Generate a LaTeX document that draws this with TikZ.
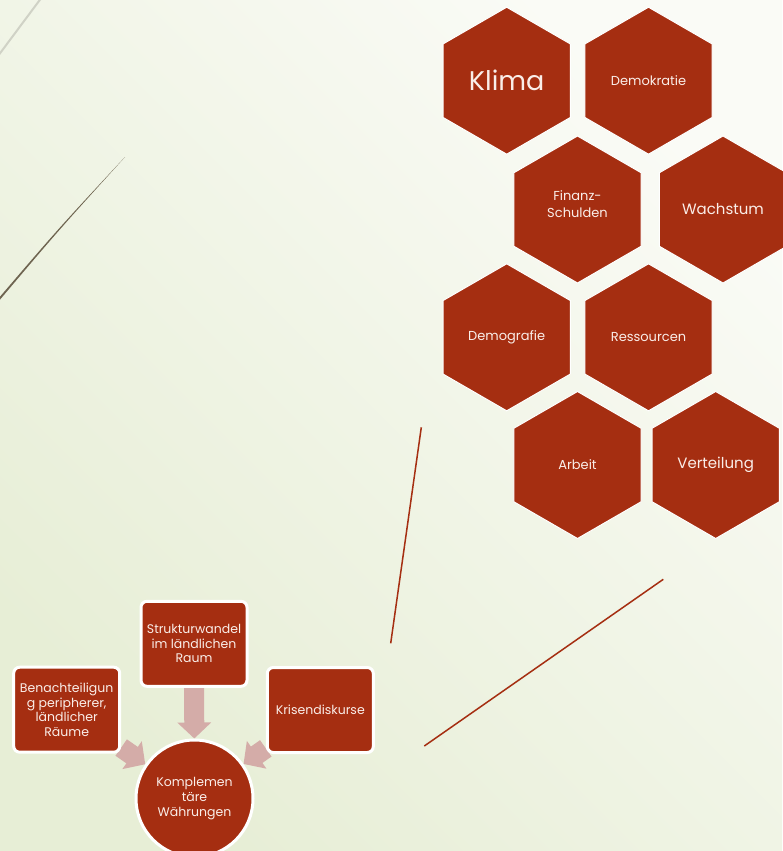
\documentclass[tikz,border=0pt]{standalone}
\usepackage{fontspec}
\setmainfont{Poppins}
\usepackage{tikz}
\usetikzlibrary{
    shapes.geometric,
    arrows.meta,
    backgrounds
}

\definecolor{rust}{RGB}{165,46,17}
\definecolor{rosa}{RGB}{212,172,168}
\definecolor{hellweiss}{RGB}{250,238,233}
\definecolor{bggreen}{RGB}{231,238,214}
\definecolor{bglight}{RGB}{250,251,246}
\definecolor{wisp}{RGB}{110,100,80}
\definecolor{wispgray}{RGB}{208,210,198}

\tikzset{
    hexnode/.style={regular polygon, regular polygon sides=6, shape border rotate=30,
        minimum size=147pt, inner sep=0pt, fill=rust, draw=white, line width=1pt,
        text=hellweiss, align=center, font=\fontsize{13}{16.5}\selectfont},
    box/.style={rectangle, rounded corners=6pt, fill=rust, draw=white, line width=3pt,
        minimum width=106pt, minimum height=85pt, inner sep=1pt, text=hellweiss,
        align=center, font=\fontsize{12.5}{14.5}\selectfont},
    blockarrow/.style={draw=rosa, line width=20pt, -{Triangle[width=33pt,length=16pt]}}
}

\begin{document}
\begin{tikzpicture}[x=1pt, y=-1pt]
        \useasboundingbox (0, 0) rectangle (782, 851);

        % hexagons
        \node[hexnode, font=\fontsize{27}{32}\selectfont] (klima) at (506.7, 80.7) {Klima};
        \node[hexnode] (demokratie) at (648.5, 80.7) {Demokratie};
        \node[hexnode] (finanz) at (577.5, 209.5) {Finanz-\\Schulden\\[-6pt]\mbox{}};
        \node[hexnode, font=\fontsize{15}{18}\selectfont] (wachstum) at (723, 209.5) {Wachstum};
        \node[hexnode] (demografie) at (506.7, 337.3) {Demografie};
        \node[hexnode] (ressourcen) at (648.5, 337.3) {Ressourcen};
        \node[hexnode] (arbeit) at (577.5, 465) {Arbeit};
        \node[hexnode, font=\fontsize{15}{18}\selectfont] (verteilung) at (715.7, 465) {Verteilung};

        % boxes and circle
        \node[box] (struktur) at (194, 643.8) {Strukturwandel\\im ländlichen\\Raum};
        \node[box] (benach) at (66.7, 709.7) {Benachteiligun\\g peripherer,\\ländlicher\\Räume};
        \node[box] (krisen) at (320.3, 710) {Krisendiskurse};
        \node[circle, fill=rust, draw=white, line width=3pt, minimum size=117pt, inner sep=0pt,
            text=hellweiss, align=center, font=\fontsize{12.5}{15}\selectfont]
            (komp) at (194.5, 798.5) {Komplemen\\täre\\Währungen};

        \begin{scope}[on background layer]
            \shade[top color=bglight, bottom color=bggreen, shading angle=-45] (0, 0) rectangle (782, 851);
            \draw[wispgray, line width=2pt] (-5, 60) -- (42, -3);
            \fill[wisp] (-2, 299) .. controls (58, 229) .. (125, 157) .. controls (58, 231) .. (-2, 302) -- cycle;
            \draw[rust, line width=1.5pt] (421.3, 427.3) -- (390.7, 643.3);
            \draw[rust, line width=1.5pt] (663.3, 579.3) -- (424.3, 746);
            \draw[blockarrow] (struktur) -- (komp);
            \draw[blockarrow] (benach) -- (komp);
            \draw[blockarrow] (krisen) -- (komp);
        \end{scope}
    \end{tikzpicture}
\end{document}
